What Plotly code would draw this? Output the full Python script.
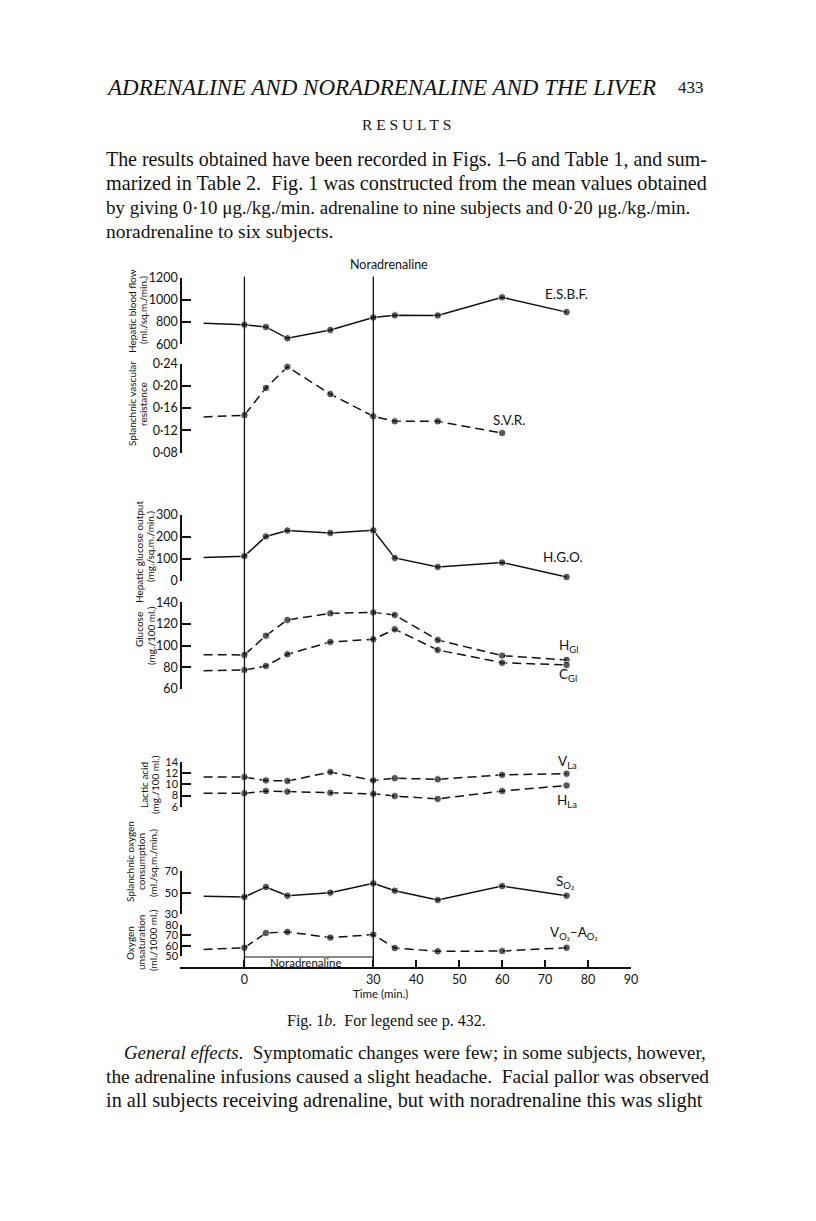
import plotly.graph_objects as go

# The page body has an 8px margin, so the figure sits at (8, 8) in the window.
OFF = 8
W, H = 816 - OFF, 1221 - OFF


def px(x):
    return (x - OFF) / W


def py(y):
    return 1 - (y - OFF) / H


# ---------------- data ----------------
TIMES = [-9.5, 0, 5, 10, 20, 30, 35, 45, 60, 75]
ESBF = [788, 776, 756, 654, 729, 841, 860, 859, 1022, 889]
SVR = [0.144, 0.147, 0.196, 0.234, 0.185, 0.145, 0.136, 0.136, 0.115]
HGO = [106, 112, 202, 229, 218, 230, 104, 63, 83, 17]
H_GL = [91.7, 91.4, 109.2, 123.7, 129.8, 130.7, 128.3, 105.2, 90.8, 86.8]
C_GL = [76.9, 77.5, 81.2, 92.0, 103.4, 105.9, 115.1, 96.0, 84.2, 82.2]
V_LA = [11.3, 11.3, 10.7, 10.6, 12.2, 10.7, 11.1, 10.9, 11.7, 11.9]
H_LA = [8.4, 8.4, 8.8, 8.7, 8.5, 8.3, 7.9, 7.4, 8.8, 9.8]
S_O2 = [46.6, 46.0, 55.2, 47.2, 50.0, 58.6, 51.8, 43.2, 56.1, 47.2]
VA_O2 = [56.4, 58.0, 72.3, 73.3, 67.8, 70.7, 57.7, 54.5, 54.8, 58.0]

INFUSION = (0, 30)
X_TICKS = [0, 30, 40, 50, 60, 70, 80, 90]

P1_TICKS = [600, 800, 1000, 1200]
P2_TICKS = [0.08, 0.12, 0.16, 0.20, 0.24]
P2_TEXT = ["0·08", "0·12", "0·16", "0·20", "0·24"]
P3_TICKS = [0, 100, 200, 300]
P4_TICKS = [60, 80, 100, 120, 140]
P5_TICKS = [6, 8, 10, 12, 14]
P6_TICKS = [30, 50, 70]
P7_TICKS = [50, 60, 70, 80]

CHART_FONT = "Lato"
SERIF = "Liberation Serif"
INK = "#111111"
DASH = "9px,5px"

fig = go.Figure()

panels = [
    ("yaxis", P1_TICKS, None, 277.5, 344.3, 12.5),
    ("yaxis2", P2_TICKS, P2_TEXT, 363.5, 452.5, 12.5),
    ("yaxis3", P3_TICKS, None, 515.0, 580.7, 12.5),
    ("yaxis4", P4_TICKS, None, 602.3, 689.0, 12.5),
    ("yaxis5", P5_TICKS, None, 762.0, 806.7, 11),
    ("yaxis6", P6_TICKS, None, 871.0, 914.3, 11.5),
    ("yaxis7", P7_TICKS, None, 925.0, 956.0, 11),
]

layout_axes = {}
for name, ticks, ttext, top, bot, fs in panels:
    ax = dict(
        domain=[py(bot), py(top)],
        range=[ticks[0], ticks[-1]],
        anchor="free",
        position=px(181),
        showline=True,
        linecolor=INK,
        linewidth=1.5,
        ticks="inside",
        ticklen=9,
        tickwidth=1.5,
        tickcolor=INK,
        tickvals=ticks,
        showgrid=False,
        zeroline=False,
        tickfont=dict(family=CHART_FONT, size=fs, color=INK),
    )
    if ttext is not None:
        ax["ticktext"] = ttext
    layout_axes[name] = ax


def add_series(times, vals, yref, dashed):
    sizes = [0] + [7.5] * (len(vals) - 1)
    fig.add_trace(go.Scatter(
        x=times[:len(vals)], y=vals, xaxis="x", yaxis=yref,
        mode="lines+markers",
        line=dict(color=INK, width=1.5, dash=DASH if dashed else "solid"),
        marker=dict(color=INK, size=sizes),
        cliponaxis=False, showlegend=False, hoverinfo="skip",
    ))


add_series(TIMES, ESBF, "y", False)
add_series(TIMES, SVR, "y2", True)
add_series(TIMES, HGO, "y3", False)
add_series(TIMES, H_GL, "y4", True)
add_series(TIMES, C_GL, "y4", True)
add_series(TIMES, V_LA, "y5", True)
add_series(TIMES, H_LA, "y5", True)
add_series(TIMES, S_O2, "y6", False)
add_series(TIMES, VA_O2, "y7", True)

shapes = []
for t in INFUSION:
    shapes.append(dict(type="line", xref="x", yref="paper", x0=t, x1=t,
                       y0=py(968), y1=py(276.5), line=dict(color=INK, width=1.3)))
shapes.append(dict(type="rect", xref="x", yref="paper", x0=INFUSION[0], x1=INFUSION[1],
                   y0=py(968), y1=py(957), line=dict(color=INK, width=1.2)))

ann = []


def label(text, x, y, size=12, family=CHART_FONT, angle=0, xanchor="center"):
    ann.append(dict(text=text, x=px(x), y=py(y), xref="paper", yref="paper",
                    showarrow=False, textangle=angle, xanchor=xanchor, yanchor="middle",
                    font=dict(family=family, size=size, color=INK)))


LS = 13.5
label("E.S.B.F.", 566, 294, LS)
label("S.V.R.", 509, 420, LS)
label("H.G.O.", 563, 557, LS)
label("H<sub>Gl</sub>", 568, 646, LS)
label("C<sub>Gl</sub>", 568, 675, LS)
label("V<sub>La</sub>", 567, 762, LS)
label("H<sub>La</sub>", 567, 801, LS)
label("S<sub>O₂</sub>", 565, 882, LS)
label("V<sub>O₂</sub>–A<sub>O₂</sub>", 574, 933, LS)
label("Noradrenaline", 389, 265, 12.5)
label("Noradrenaline", 306, 962, 11.5)
label("Time (min.)", 380, 993, 11.5)

YT = 10
label("Hepatic blood flow", 132, 311, YT, angle=-90)
label("(ml./sq.m./min.)", 143, 310, YT, angle=-90)
label("Splanchnic vascular", 132, 404, YT, angle=-90)
label("resistance", 143, 404, YT, angle=-90)
label("Hepatic glucose output", 139, 552, YT, angle=-90)
label("(mg./sq.m./min.)", 150, 547, YT, angle=-90)
label("Glucose", 139, 630, YT, angle=-90)
label("(mg./100 ml.)", 151, 636, YT, angle=-90)
label("Lactic acid", 144, 785, YT, angle=-90)
label("(mg./100 ml.)", 155, 785, YT, angle=-90)
label("Splanchnic oxygen", 130, 862, YT, angle=-90)
label("consumption", 141, 862, YT, angle=-90)
label("(ml./sq.m./min.)", 153, 863, YT, angle=-90)
label("Oxygen", 130, 943, YT, angle=-90)
label("unsaturation", 141, 943, YT, angle=-90)
label("(ml./1000 ml.)", 153, 940, YT, angle=-90)

# page text
label("<i>ADRENALINE AND NORADRENALINE AND THE LIVER</i>", 104, 87, 23, SERIF, xanchor="left")
label("433", 691, 87, 17, SERIF)
label("R E S U L T S", 406, 125, 15.5, SERIF)
body = [
    ("The results obtained have been recorded in Figs. 1–6 and Table 1, and sum-", 104, 159, 19.9),
    ("marized in Table 2.  Fig. 1 was constructed from the mean values obtained", 104, 183, 20.2),
    ("by giving 0·10 μg./kg./min. adrenaline to nine subjects and 0·20 μg./kg./min.", 104, 207, 18.95),
    ("noradrenaline to six subjects.", 104, 231, 19.5),
]
for t, x, y, s in body:
    label(t, x, y, s, SERIF, xanchor="left")
label("Fig. 1<i>b</i>.  For legend see p. 432.", 386, 1021, 16, SERIF)
body2 = [
    ("<i>General effects</i>.  Symptomatic changes were few; in some subjects, however,", 122, 1052, 18.85),
    ("the adrenaline infusions caused a slight headache.  Facial pallor was observed", 104, 1076, 19.4),
    ("in all subjects receiving adrenaline, but with noradrenaline this was slight", 104, 1100, 20.3),
]
for t, x, y, s in body2:
    label(t, x, y, s, SERIF, xanchor="left")

fig.update_layout(
    width=W, height=H, autosize=False,
    margin=dict(l=0, r=0, t=0, b=0),
    paper_bgcolor="white", plot_bgcolor="white",
    template="none",
    showlegend=False,
    xaxis=dict(
        domain=[px(180), px(631)], range=[-15, 90],
        anchor="free", position=py(968),
        showline=True, linecolor=INK, linewidth=1.5,
        ticks="inside", ticklen=7, tickwidth=1.5, tickcolor=INK,
        tickvals=X_TICKS, showgrid=False, zeroline=False,
        tickfont=dict(family=CHART_FONT, size=12.5, color=INK),
    ),
    shapes=shapes,
    annotations=ann,
    **layout_axes,
)

fig.write_html("out.html")
